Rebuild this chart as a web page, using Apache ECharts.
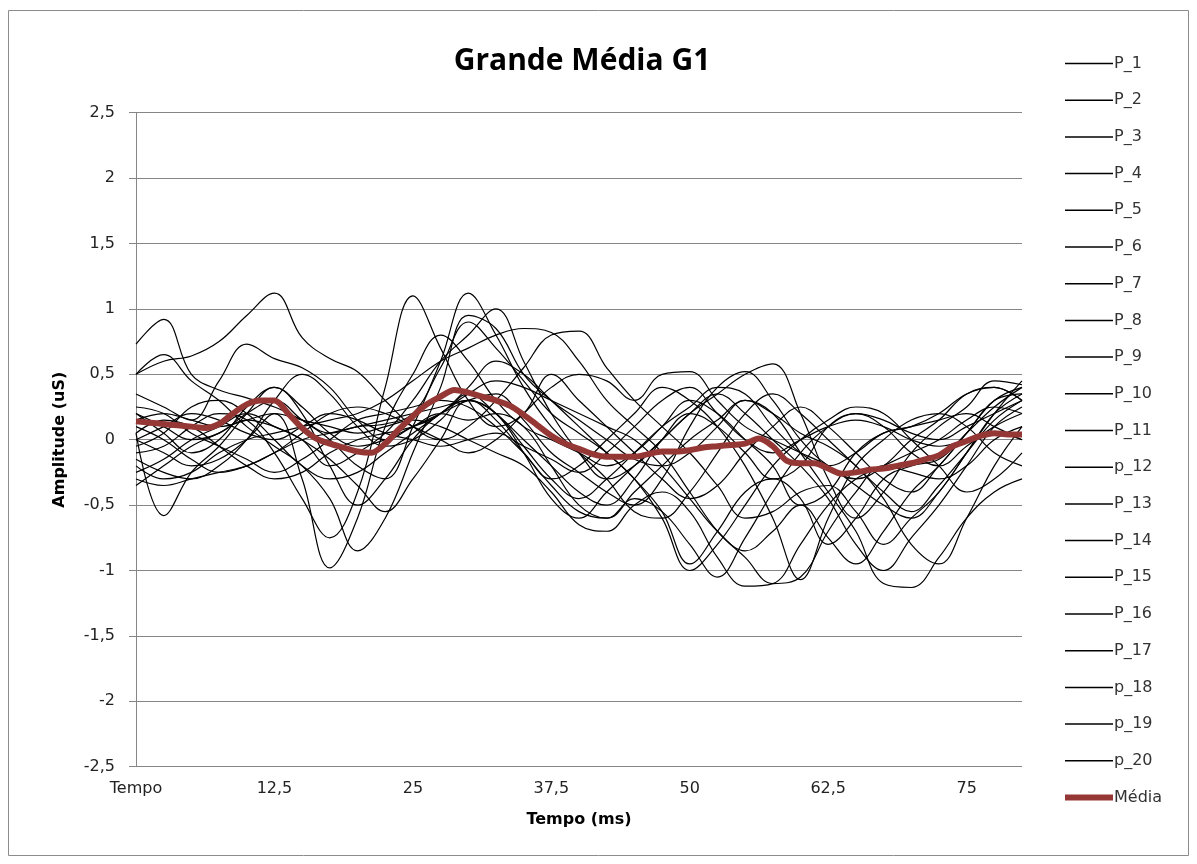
<!DOCTYPE html>
<html>
<head>
<meta charset="utf-8">
<script src="https://cdn.jsdelivr.net/npm/echarts@6/dist/echarts.min.js"></script>
<style>
html,body{margin:0;padding:0;background:#fff;}
#chart{width:1197px;height:864px;}
</style>
</head>
<body>
<div id="chart"></div>
<script>
// ---- data ----
const title = 'Grande Média G1';
const yTicks = [-2.5, -2, -1.5, -1, -0.5, 0, 0.5, 1, 1.5, 2, 2.5];
const xTickLabels = ['Tempo', '12,5', '25', '37,5', '50', '62,5', '75'];
const timesP = [0,2.5,5,7.5,10,12.5,15,17.5,20,22.5,25,27.5,30,32.5,35,37.5,40,42.5,45,47.5,50,52.5,55,57.5,60,62.5,65,67.5,70,72.5,75,77.5,80];
const timesMean = [0,1.25,2.5,3.75,5,6.25,7.5,8.75,10,11.25,12.5,13.75,15,16.25,17.5,18.75,20,21.25,22.5,23.75,25,26.25,27.5,28.75,30,31.25,32.5,33.75,35,36.25,37.5,38.75,40,41.25,42.5,43.75,45,46.25,47.5,48.75,50,51.25,52.5,53.75,55,56.25,57.5,58.75,60,61.25,62.5,63.75,65,66.25,67.5,68.75,70,71.25,72.5,73.75,75,76.25,77.5,78.75,80];

const seriesNames = ['P_1','P_2','P_3','P_4','P_5','P_6','P_7','P_8','P_9','P_10','P_11','p_12','P_13','P_14','P_15','P_16','P_17','p_18','p_19','p_20'];
const meanName = 'Média';

const P_1  = [0.73,0.92,0.50,0.38,0.32,0.25,0.15,0.05,0.10,0.12,0.20,0.55,0.90,0.70,0.45,0.20,0.05,-0.10,-0.30,-0.55,-0.95,-0.70,-0.40,-0.30,-0.45,-0.80,-0.60,-0.30,-0.20,-0.15,0.05,0.25,0.40];
const P_2  = [0.50,0.60,0.64,0.75,0.95,1.12,0.78,0.62,0.52,0.30,0.10,0.00,0.10,0.30,0.55,0.80,0.83,0.55,0.30,0.10,-0.10,-0.35,-0.60,-0.55,-0.40,-0.35,-0.55,-0.80,-0.60,-0.40,-0.10,0.20,0.35];
const P_3  = [0.50,0.65,0.45,0.30,0.10,-0.05,-0.20,-0.45,-0.85,-0.60,-0.10,0.40,0.95,0.85,0.50,0.30,0.15,0.00,-0.15,-0.20,-0.10,0.10,0.30,0.20,0.05,-0.05,-0.20,-0.45,-0.80,-0.95,-0.60,-0.20,0.10];
const P_4  = [0.35,0.25,0.15,0.45,0.73,0.62,0.55,0.40,0.15,0.00,0.10,0.20,0.30,0.35,0.15,-0.10,-0.25,-0.40,-0.50,-0.30,0.10,0.40,0.52,0.30,0.00,-0.20,-0.30,-0.20,0.00,0.15,0.35,0.40,0.30];
const P_5  = [0.05,-0.58,-0.25,-0.05,0.20,0.40,0.25,0.05,-0.05,0.00,0.10,0.20,0.15,0.20,0.10,-0.20,-0.50,-0.60,-0.45,-0.55,-0.80,-1.05,-0.75,-0.40,-0.10,0.10,0.20,0.10,-0.10,-0.20,-0.05,0.10,0.20];
const P_6  = [0.00,-0.10,-0.20,-0.15,0.00,0.20,-0.30,-0.98,-0.60,0.10,0.50,0.80,0.60,0.30,0.10,0.00,-0.10,-0.20,-0.10,0.10,0.30,0.20,0.00,-0.20,-0.50,-0.40,-0.10,0.05,0.10,0.15,0.20,0.10,0.00];
const P_7  = [-0.10,-0.05,0.10,0.20,0.15,-0.10,-0.45,-0.75,-0.40,0.40,1.10,0.70,0.30,0.10,0.20,0.50,0.30,0.10,-0.10,-0.30,-0.45,-0.35,-0.10,0.10,0.25,0.10,-0.10,-0.30,-0.40,-0.20,0.05,0.30,0.35];
const P_8  = [0.20,0.10,0.00,0.05,0.20,0.30,0.15,0.00,-0.20,-0.30,0.10,0.60,1.12,0.80,0.40,0.10,-0.10,-0.30,-0.55,-0.60,-0.40,-0.10,0.20,0.35,0.20,0.00,-0.20,-0.40,-0.55,-0.35,-0.10,0.15,0.30];
const P_9  = [-0.25,-0.15,0.00,0.10,0.20,0.10,0.00,-0.20,-0.10,0.05,0.30,0.60,0.80,1.00,0.60,0.20,-0.10,-0.30,-0.20,0.00,0.20,0.35,0.50,0.58,0.20,-0.30,-0.60,-0.40,-0.10,0.10,0.25,0.45,0.42];
const P_10 = [-0.20,-0.30,-0.25,-0.10,0.00,0.05,0.10,0.15,0.20,0.30,0.45,0.60,0.70,0.80,0.85,0.82,0.60,0.30,0.10,-0.10,-0.40,-0.70,-0.90,-1.10,-1.05,-0.70,-0.40,-0.20,-0.25,-0.30,-0.20,0.00,0.10];
const P_11 = [0.15,0.20,0.15,0.10,0.15,0.20,0.15,0.10,0.05,0.10,0.15,0.10,0.00,-0.10,-0.20,-0.40,-0.65,-0.70,-0.50,-0.40,-0.55,-0.90,-1.12,-1.10,-0.80,-0.50,-0.30,-0.20,-0.10,0.00,0.15,0.25,0.20];
const p_12 = [-0.30,-0.35,-0.30,-0.25,-0.20,-0.10,0.00,0.05,0.10,0.15,0.20,0.25,0.30,0.15,-0.10,-0.35,-0.55,-0.60,-0.40,-0.20,0.00,0.15,0.30,0.20,-0.10,-0.40,-0.70,-1.10,-1.13,-0.90,-0.60,-0.40,-0.30];
const P_13 = [0.10,0.00,-0.15,-0.25,-0.20,-0.10,0.05,0.20,0.25,0.20,0.10,0.00,-0.10,0.00,0.20,0.40,0.50,0.45,0.30,0.50,0.52,0.30,0.10,0.00,-0.10,-0.20,-0.35,-0.50,-0.60,-0.40,-0.10,0.20,0.45];
const P_14 = [-0.05,0.05,0.25,0.30,0.20,0.00,-0.20,-0.30,-0.25,-0.10,0.05,0.20,0.35,0.45,0.40,0.30,0.20,0.10,0.00,-0.20,-0.45,-0.70,-0.85,-0.70,-0.50,-0.75,-0.95,-0.70,-0.40,-0.20,0.05,0.30,0.40];
const P_15 = [0.25,0.20,0.05,-0.05,-0.15,-0.25,-0.15,0.00,0.15,0.20,0.25,0.30,0.25,0.10,-0.10,-0.30,-0.20,0.00,0.20,0.40,0.30,0.10,-0.20,-0.60,-1.07,-0.60,-0.20,0.00,0.15,0.20,0.10,-0.10,-0.20];
const P_16 = [-0.15,-0.25,-0.30,-0.20,0.00,0.30,0.50,0.35,0.10,-0.05,0.00,0.15,0.35,0.20,0.00,-0.20,-0.40,-0.50,-0.30,0.00,0.20,0.10,-0.10,-0.30,-0.20,0.10,0.20,0.15,0.05,0.00,0.10,0.20,0.30];
const P_17 = [0.05,0.15,0.10,-0.05,-0.20,-0.30,-0.25,-0.10,0.00,0.05,0.10,0.20,0.40,0.60,0.50,0.30,0.10,-0.10,-0.30,-0.60,-1.00,-0.80,-0.50,-0.20,0.00,0.15,0.25,0.20,0.00,-0.20,-0.40,-0.30,-0.10];
const p_18 = [0.20,0.05,-0.10,0.00,0.25,0.40,0.20,-0.20,-0.50,-0.30,0.00,0.20,0.30,0.20,-0.10,-0.45,-0.60,-0.40,-0.20,0.00,0.20,0.35,0.20,0.00,-0.20,-0.45,-0.80,-1.00,-0.75,-0.50,-0.20,0.10,0.25];
const p_19 = [-0.35,-0.20,-0.05,0.05,0.15,0.10,0.00,-0.15,-0.35,-0.55,-0.30,0.00,0.30,0.20,-0.05,-0.30,-0.45,-0.30,-0.10,0.10,0.25,0.40,0.35,0.10,-0.10,-0.20,-0.10,0.05,0.10,0.20,0.35,0.40,0.30];
const p_20 = [0.00,0.10,0.20,0.15,0.05,0.00,0.10,0.20,0.15,0.05,0.00,-0.05,0.00,0.05,-0.05,-0.15,-0.25,-0.10,0.10,0.30,0.40,0.20,0.00,-0.10,0.00,0.10,0.15,0.10,0.00,-0.05,0.00,0.05,0.00];

const media = [0.14,0.13,0.12,0.11,0.10,0.09,0.12,0.20,0.27,0.30,0.30,0.20,0.09,0.01,-0.03,-0.06,-0.09,-0.10,-0.03,0.08,0.18,0.27,0.33,0.38,0.36,0.33,0.30,0.26,0.19,0.11,0.03,-0.03,-0.07,-0.11,-0.13,-0.13,-0.13,-0.11,-0.09,-0.09,-0.08,-0.06,-0.05,-0.04,-0.03,0.01,-0.05,-0.16,-0.18,-0.18,-0.22,-0.26,-0.25,-0.23,-0.22,-0.20,-0.18,-0.15,-0.12,-0.05,-0.01,0.03,0.05,0.04,0.04];

const pValues = [P_1,P_2,P_3,P_4,P_5,P_6,P_7,P_8,P_9,P_10,P_11,p_12,P_13,P_14,P_15,P_16,P_17,p_18,p_19,p_20];

// ---- chart ----
const TITLE_FONT = 'Open Sans';
const FONT = 'DejaVu Sans';
const MEAN_COLOR = '#953735';
const chart = echarts.init(document.getElementById('chart'), null, {renderer: 'canvas'});
const fmt = v => String(v).replace('.', ',');

const series = pValues.map((vals, k) => ({
  name: seriesNames[k],
  type: 'line',
  data: timesP.map((t, i) => [t, vals[i]]),
  symbol: 'circle',
  showSymbol: false,
  smooth: 0.4,
  lineStyle: {color: '#000', width: 1.2},
  itemStyle: {color: '#000'},
  emphasis: {disabled: true},
  animation: false
}));
series.push({
  name: meanName,
  type: 'line',
  data: timesMean.map((t, i) => [t, media[i]]),
  symbol: 'circle',
  showSymbol: false,
  smooth: 0.3,
  lineStyle: {color: MEAN_COLOR, width: 6},
  itemStyle: {color: MEAN_COLOR},
  emphasis: {disabled: true},
  animation: false,
  z: 5
});

const legendData = seriesNames.map(n => ({name: n, lineStyle: {width: 1.5, color: '#000'}}));
legendData.push({name: meanName, lineStyle: {width: 6, color: MEAN_COLOR}});

const option = {
  backgroundColor: '#fff',
  animation: false,
  title: {
    text: title,
    left: 577, top: 41, textAlign: 'center',
    textStyle: {fontFamily: TITLE_FONT, fontSize: 30, fontWeight: 'bold', color: '#000'}
  },
  graphic: [{
    type: 'rect', silent: true, z: -1,
    shape: {x: 8.5, y: 10.5, width: 1180, height: 845},
    style: {fill: 'none', stroke: '#8c8c8c', lineWidth: 1}
  }],
  legend: {
    orient: 'vertical',
    left: 1062, top: 55, padding: 0,
    itemWidth: 48, itemHeight: 17, itemGap: 19.7,
    data: legendData,
    itemStyle: {opacity: 0},
    textStyle: {fontFamily: FONT, fontSize: 16, color: '#333', lineHeight: 17, padding: [0,0,0,-4]},
    selectedMode: false
  },
  grid: {left: 136, right: 175, top: 112.7, bottom: 97.3, containLabel: false},
  xAxis: {
    type: 'value', min: 0, max: 80, interval: 12.5,
    name: 'Tempo (ms)', nameLocation: 'middle', nameGap: 45,
    nameTextStyle: {fontFamily: FONT, fontSize: 16, fontWeight: 'bold', color: '#000'},
    axisLine: {show: true, lineStyle: {color: '#868686', width: 1}},
    axisTick: {show: false},
    splitLine: {show: false},
    axisLabel: {
      fontFamily: FONT, fontSize: 16, color: '#222', margin: 14,
      formatter: v => {
        if (v === 0) return xTickLabels[0];
        const idx = Math.round(v / 12.5);
        return (Math.abs(v - idx * 12.5) < 1e-6 && idx < xTickLabels.length) ? xTickLabels[idx] : '';
      }
    }
  },
  yAxis: {
    type: 'value', min: yTicks[0], max: yTicks[yTicks.length - 1], interval: 0.5,
    name: 'Amplitude (uS)', nameLocation: 'middle', nameGap: 68, nameRotate: 90,
    nameTextStyle: {fontFamily: FONT, fontSize: 16, fontWeight: 'bold', color: '#000'},
    axisLine: {show: true, lineStyle: {color: '#868686', width: 1}},
    axisTick: {show: true, inside: false, length: 7, lineStyle: {color: '#868686'}},
    splitLine: {show: true, lineStyle: {color: '#868686', width: 1}},
    axisLabel: {fontFamily: FONT, fontSize: 16, color: '#222', margin: 21, formatter: fmt}
  },
  series: series
};
chart.setOption(option);
</script>
</body>
</html>
